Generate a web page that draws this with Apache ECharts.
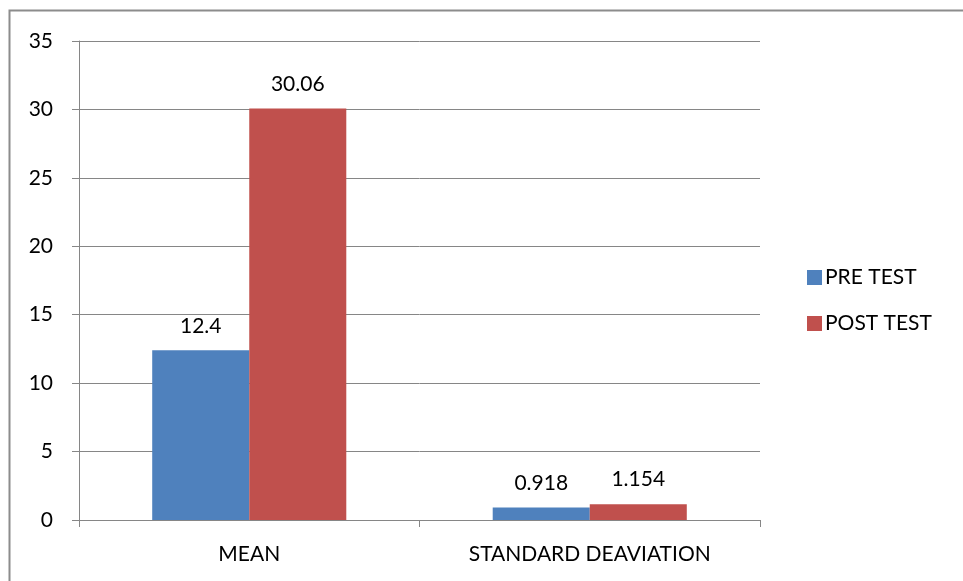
<!DOCTYPE html>
<html><head><meta charset="utf-8">
<script src="https://cdn.jsdelivr.net/npm/echarts@6/dist/echarts.min.js"></script>
<style>html,body{margin:0;padding:0;background:#fff}#c{width:963px;height:581px}</style>
</head><body><div id="c"></div>
<script>
const categories = ['MEAN', 'STANDARD DEAVIATION'];
const preTest = [12.4, 0.918];
const postTest = [30.06, 1.154];
const seriesNames = ['PRE TEST', 'POST TEST'];
const yTicks = {min: 0, max: 35, interval: 5};

const chart = echarts.init(document.getElementById('c'), null, {renderer: 'canvas'});
const font = 'Lato, "Liberation Sans", sans-serif';
const fs = 21;
const labelStyle = {show: true, position: 'top', distance: 14, color: '#000', fontSize: fs, fontFamily: font};
chart.setOption({
  animation: false,
  graphic: [{type: 'rect', shape: {x: 9.5, y: 10.5, width: 1000, height: 1000}, style: {fill: 'none', stroke: '#8c8c8c', lineWidth: 2}}],
  grid: {left: 79, right: 203, top: 41, bottom: 61, containLabel: false},
  legend: {
    orient: 'vertical', left: 802, top: 262, itemWidth: 15, itemHeight: 15, itemGap: 25,
    icon: 'rect', textStyle: {fontSize: fs, fontFamily: font, color: '#000', padding: [0, 0, 0, -2]},
    data: seriesNames
  },
  xAxis: {
    type: 'category', data: categories,
    axisLine: {lineStyle: {color: '#868686', width: 1}},
    axisTick: {show: true, length: 7, lineStyle: {color: '#868686'}},
    axisLabel: {color: '#000', fontSize: fs, fontFamily: font, margin: 24}
  },
  yAxis: {
    type: 'value', min: yTicks.min, max: yTicks.max, interval: yTicks.interval,
    axisLine: {show: true, lineStyle: {color: '#868686'}},
    axisTick: {show: true, length: 7, lineStyle: {color: '#868686'}},
    splitLine: {lineStyle: {color: '#868686', width: 1}},
    axisLabel: {color: '#000', fontSize: fs, fontFamily: font, margin: 26}
  },
  series: [
    {name: seriesNames[0], type: 'bar', data: preTest, itemStyle: {color: '#4F81BD'}, barGap: '0%', barCategoryGap: '43%', label: labelStyle},
    {name: seriesNames[1], type: 'bar', data: postTest, itemStyle: {color: '#C0504D'}, barGap: '0%', barCategoryGap: '43%', label: labelStyle}
  ]
});
</script></body></html>
